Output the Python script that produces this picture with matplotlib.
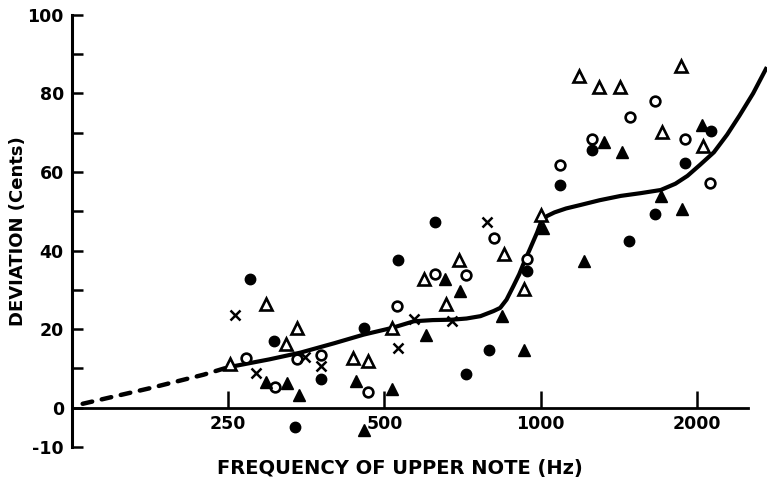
import matplotlib
matplotlib.use('Agg')
import matplotlib.pyplot as plt
from matplotlib.ticker import FixedLocator, NullFormatter

plt.rcParams['font.family'] = 'DejaVu Sans'
plt.rcParams['axes.unicode_minus'] = False

# frequency (Hz), deviation (cents)
filled_circle_f = [275, 306, 336, 377, 456, 530, 625, 717, 794, 943, 1090, 1258, 1482, 1666, 1896, 2128]
filled_circle_y = [32.7, 16.9, -4.8, 7.3, 20.3, 37.6, 47.3, 8.7, 14.6, 34.8, 56.7, 65.6, 42.3, 49.4, 62.2, 70.5]

open_circle_f = [271, 308, 339, 377, 465, 528, 627, 717, 812, 943, 1090, 1258, 1487, 1660, 1896, 2120]
open_circle_y = [12.7, 5.3, 12.4, 13.3, 3.9, 26.0, 33.9, 33.7, 43.3, 37.8, 61.7, 68.4, 73.9, 78.1, 68.5, 57.3]

filled_tri_f = [295, 325, 342, 440, 456, 517, 602, 653, 700, 843, 929, 1010, 1212, 1325, 1438, 1705, 1870, 2051]
filled_tri_y = [6.5, 6.3, 3.3, 6.7, -5.6, 4.8, 18.6, 32.7, 29.8, 23.3, 14.8, 45.8, 37.3, 67.5, 65.0, 53.9, 50.5, 71.9]

open_tri_f = [252, 296, 323, 339, 435, 465, 517, 596, 657, 695, 852, 929, 1004, 1186, 1296, 1422, 1716, 1862, 2060]
open_tri_y = [11.2, 26.3, 16.1, 20.3, 12.7, 11.8, 20.3, 32.7, 26.3, 37.6, 39.0, 30.1, 49.0, 84.5, 81.6, 81.6, 70.2, 86.9, 66.7]

cross_f = [258, 283, 351, 377, 531, 570, 675, 787]
cross_y = [23.7, 8.8, 13.0, 10.5, 15.2, 22.6, 22.0, 47.3]

# fitted curve: dashed extrapolation and solid part
dash_f = [131, 177, 224, 250]
dash_y = [1.0, 5.0, 8.4, 10.3]

curve_f = [250, 300, 344, 400, 456, 517, 570, 620, 675, 720, 766, 812, 836, 860, 887, 910,
           929, 955, 985, 1004, 1030, 1064, 1120, 1195, 1300, 1428, 1560, 1705, 1820, 1920,
           2030, 2159, 2290, 2418, 2570, 2720]
curve_y = [10.3, 12.3, 14.0, 16.4, 18.6, 20.3, 22.0, 22.3, 22.4, 22.7, 23.3, 24.6, 25.4, 27.5, 31.0, 34.0,
           36.9, 40.5, 44.6, 47.5, 48.8, 49.7, 50.7, 51.6, 52.8, 53.9, 54.6, 55.4, 57.0, 59.0,
           61.8, 65.0, 69.5, 74.3, 80.0, 86.2]

x_ticks = [250, 500, 1000, 2000]
y_major = [-10, 0, 20, 40, 60, 80, 100]
y_minor = [10, 30, 50, 70, 90]

fig = plt.figure(figsize=(7.67, 4.83), dpi=100)
ax = fig.add_axes([0.094, 0.0745, 0.881, 0.895])
ax.set_xscale('log')
ax.set_xlim(125, 2510)
ax.set_ylim(-10, 100)

ax.plot(dash_f, dash_y, color='black', lw=3.2, ls=(0, (2.2, 2.2)), solid_capstyle='round',
        dash_capstyle='round', zorder=3)
ax.plot(curve_f, curve_y, color='black', lw=3.0, zorder=3, clip_on=False)

ax.plot(filled_circle_f, filled_circle_y, 'o', ms=7.5, color='black', zorder=4, clip_on=False)
ax.plot(open_circle_f, open_circle_y, 'o', ms=7, mfc='white', mec='black', mew=1.9, zorder=4)
ax.plot(filled_tri_f, filled_tri_y, '^', ms=8.5, color='black', zorder=4, clip_on=False)
ax.plot(open_tri_f, open_tri_y, '^', ms=8, mfc='white', mec='black', mew=1.9, zorder=4)
ax.plot(cross_f, cross_y, 'x', ms=7, color='black', mew=1.8, zorder=4)

for s in ['top', 'right']:
    ax.spines[s].set_visible(False)
ax.spines['bottom'].set_position(('data', 0))
ax.spines['bottom'].set_linewidth(2.0)
ax.spines['left'].set_linewidth(2.2)

ax.xaxis.set_major_locator(FixedLocator(x_ticks))
ax.xaxis.set_minor_locator(FixedLocator([]))
ax.xaxis.set_minor_formatter(NullFormatter())
ax.set_xticklabels([str(v) for v in x_ticks])
ax.tick_params(axis='x', direction='in', length=12, width=1.8, pad=5, labelsize=12.5)

ax.yaxis.set_major_locator(FixedLocator(y_major))
ax.yaxis.set_minor_locator(FixedLocator(y_minor))
ax.set_yticklabels([str(v) for v in y_major])
ax.tick_params(axis='y', which='both', direction='in', length=8, width=1.8, pad=6, labelsize=12.5)

for lab in ax.get_xticklabels() + ax.get_yticklabels():
    lab.set_fontweight('bold')

ax.set_ylabel('DEVIATION (Cents)', fontsize=13, fontweight='bold')
ax.yaxis.set_label_coords(-0.067, 0.5)
ax.set_xlabel('FREQUENCY OF UPPER NOTE (Hz)', fontsize=14, fontweight='bold')
ax.xaxis.set_label_coords(0.485, -0.028)

fig.savefig('out.png', dpi=100)
